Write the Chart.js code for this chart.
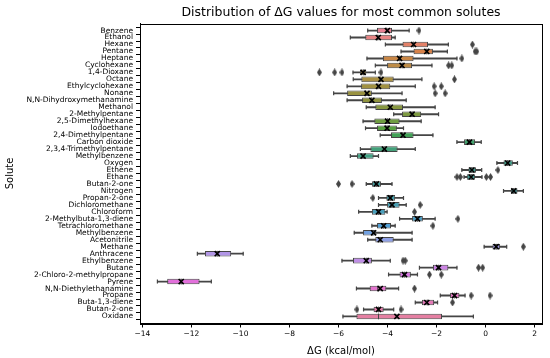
<!DOCTYPE html>
<html>
<head>
<meta charset="utf-8">
<script src="https://cdn.jsdelivr.net/npm/chart.js@4.4.0/dist/chart.umd.min.js"></script>
<style>
  body { margin: 0; background: #fff; }
</style>
</head>
<body>
<canvas id="grafico" width="550" height="358"></canvas>
<script>
// solutos, na ordem de cima para baixo
const solutes = ['Benzene', 'Ethanol', 'Hexane', 'Pentane', 'Heptane', 'Cyclohexane', '1,4-Dioxane', 'Octane',
  'Ethylcyclohexane', 'Nonane', 'N,N-Dihydroxymethanamine', 'Methanol', '2-Methylpentane', '2,5-Dimethylhexane',
  'Iodoethane', '2,4-Dimethylpentane', 'Carbon dioxide', '2,3,4-Trimethylpentane', 'Methylbenzene', 'Oxygen',
  'Ethene', 'Ethane', 'Butan-2-one', 'Nitrogen', 'Propan-2-one', 'Dichloromethane', 'Chloroform',
  '2-Methylbuta-1,3-diene', 'Tetrachloromethane', 'Methylbenzene', 'Acetonitrile', 'Methane', 'Anthracene',
  'Ethylbenzene', 'Butane', '2-Chloro-2-methylpropane', 'Pyrene', 'N,N-Diethylethanamine', 'Propane',
  'Buta-1,3-diene', 'Butan-2-one', 'Oxidane'];

// estatísticas das caixas (kcal/mol)
const whiskerLow = [-4.81, -5.52, -4.09, -3.45, -4.84, -4.5, -5.41, -5.4, -5.65, -6.2, -5.65, -4.87, -3.75, -5.0,
  -4.9, -4.3, -1.17, -5.11, -5.52, 0.46, -0.97, -0.88, -4.87, 0.73, -4.37, -4.37, -5.18, -3.51, -4.64, -5.36,
  -4.81, -0.06, -11.76, -5.86, -2.7, -3.96, -13.39, -5.27, -1.85, -2.87, -4.98, -5.82];
const q1 = [-4.43, -4.91, -3.39, -2.94, -4.19, -4.02, -5.12, -5.07, -5.08, -5.65, -5.04, -4.5, -3.41, -4.54,
  -4.43, -3.86, -0.88, -4.7, -5.25, 0.73, -0.7, -0.77, -4.64, 1.03, -4.05, -4.02, -4.64, -3.0, -4.43, -5.0,
  -4.5, 0.28, -11.45, -5.41, -2.15, -3.51, -12.99, -4.73, -1.45, -2.6, -4.57, -5.27];
const medians = [-4.05, -4.4, -2.95, -2.4, -3.5, -3.4, -4.98, -4.3, -4.4, -4.9, -4.65, -3.9, -3.0, -4.0,
  -4.02, -3.4, -0.66, -4.1, -5.0, 0.9, -0.56, -0.59, -4.46, 1.15, -3.89, -3.82, -4.37, -2.78, -4.16, -4.6,
  -4.3, 0.43, -10.95, -4.85, -1.92, -3.31, -12.42, -4.4, -1.27, -2.38, -4.37, -4.37];
const q3 = [-3.82, -3.82, -2.35, -2.15, -2.94, -3.0, -4.87, -3.75, -3.89, -4.64, -4.23, -3.37, -2.63, -3.51,
  -3.62, -2.94, -0.43, -3.59, -4.57, 1.11, -0.39, -0.43, -4.27, 1.3, -3.69, -3.51, -4.09, -2.56, -3.86, -4.5,
  -3.75, 0.59, -10.38, -4.64, -1.52, -3.05, -11.67, -4.05, -1.07, -2.1, -4.16, -1.78];
const whiskerHigh = [-3.12, -3.69, -1.52, -1.56, -1.17, -2.19, -4.5, -2.6, -2.87, -3.41, -3.24, -2.06, -1.92, -2.63,
  -3.35, -2.15, -0.18, -2.87, -4.37, 1.3, -0.16, -0.15, -3.82, 1.54, -3.35, -3.24, -4.02, -2.06, -3.69, -3.0,
  -3.0, 0.86, -9.89, -3.89, -1.17, -2.78, -11.19, -3.55, -0.84, -1.96, -3.75, -0.5];
const means = [-4.01, -4.38, -2.94, -2.4, -3.51, -3.41, -5.0, -4.27, -4.37, -4.84, -4.64, -3.89, -3.0, -4.0,
  -4.02, -3.37, -0.66, -4.13, -5.0, 0.9, -0.56, -0.59, -4.46, 1.15, -3.89, -3.82, -4.37, -2.78, -4.16, -4.57,
  -4.3, 0.43, -10.95, -4.87, -1.92, -3.31, -12.42, -4.3, -1.27, -2.4, -4.37, -3.62];
// valores atípicos de cada soluto
const outliers = [[-2.72], [], [-0.54], [-0.43, -0.36], [-0.97], [-1.51, -1.38], [-6.78, -6.16, -5.86, -4.27],
  [-1.27], [-2.1, -1.81], [-2.06, -1.65], [], [], [], [], [], [], [], [], [], [], [0.5], [-1.17, -1.03, 0.03, 0.2],
  [-6.0, -5.45], [], [-4.6], [-2.67], [-2.9], [-1.13], [-2.15], [], [], [1.54], [], [-3.37, -3.28],
  [-0.29, -0.12], [-2.29, -1.81], [], [-2.9], [-0.59, 0.18], [-1.35], [-5.25, -3.45], []];

const xTicks = [-14, -12, -10, -8, -6, -4, -2, 0, 2];

// paleta husl do seaborn (dessaturada a 0.75)
const M = [[3.2406, -1.5372, -0.4986], [-0.9689, 1.8758, 0.0415], [0.0557, -0.2040, 1.0570]];
function maxChroma(L, H) {
  const hr = H * Math.PI / 180, sinH = Math.sin(hr), cosH = Math.cos(hr);
  const sub1 = Math.pow(L + 16, 3) / 1560896;
  const sub2 = sub1 > 0.008856 ? sub1 : L / 903.3;
  let res = Infinity;
  M.forEach(([m1, m2, m3]) => {
    const top = (0.99915 * m1 + 1.05122 * m2 + 1.14460 * m3) * sub2;
    const rb = 0.86330 * m3 - 0.17266 * m2;
    const lb = 0.12949 * m3 - 0.38848 * m1;
    const bottom = (rb * sinH + lb * cosH) * sub2;
    [0, 1].forEach(t => {
      const C = L * (top - 1.05122 * t) / (bottom + 0.17266 * sinH * t);
      if (C > 0 && C < res) res = C;
    });
  });
  return res;
}
function huslToRgb(H, S, L) {
  const C = maxChroma(L, H) / 100 * S;
  const hr = H * Math.PI / 180;
  const U = Math.cos(hr) * C, V = Math.sin(hr) * C;
  const t = (L + 16) / 116;
  const Y = t ** 3 > 0.008856 ? t ** 3 : (116 * t - 16) / 903.3;
  const vu = U / (13 * L) + 0.19784, vv = V / (13 * L) + 0.46834;
  const X = -(9 * Y * vu) / ((vu - 4) * vv - vu * vv);
  const Z = (9 * Y - 15 * vv * Y - vv * X) / (3 * vv);
  return M.map(r => {
    let c = r[0] * X + r[1] * Y + r[2] * Z;
    c = c <= 0.0031308 ? 12.92 * c : 1.055 * Math.pow(c, 1 / 2.4) - 0.055;
    return Math.min(1, Math.max(0, c));
  });
}
function desaturated([r, g, b], prop) {
  const max = Math.max(r, g, b), min = Math.min(r, g, b);
  const l = (max + min) / 2;
  let h = 0, s = 0;
  if (max !== min) {
    const d = max - min;
    s = l > 0.5 ? d / (2 - max - min) : d / (max + min);
    if (max === r) h = (g - b) / d + (g < b ? 6 : 0);
    else if (max === g) h = (b - r) / d + 2;
    else h = (r - g) / d + 4;
    h *= 60;
  }
  return `hsl(${h.toFixed(1)}, ${(s * prop * 100).toFixed(1)}%, ${(l * 100).toFixed(1)}%)`;
}
const cores = solutes.map((_, i) => desaturated(huslToRgb(((i / solutes.length + 0.01) % 1) * 359, 89.1, 64.35), 0.75));

const cinza = '#454545';

// losango fino para os valores atípicos
const losango = document.createElement('canvas');
losango.width = 5; losango.height = 8;
const lctx = losango.getContext('2d');
lctx.fillStyle = cinza;
lctx.beginPath();
lctx.moveTo(2.5, 0); lctx.lineTo(5, 4); lctx.lineTo(2.5, 8); lctx.lineTo(0, 4);
lctx.closePath();
lctx.fill();

const pontosAtipicos = [];
outliers.forEach((lista, i) => lista.forEach(v => pontosAtipicos.push({ x: v, y: i })));

// moldura completa em volta da área do gráfico
const moldura = {
  id: 'moldura',
  afterDraw(chart) {
    const a = chart.chartArea, ctx = chart.ctx;
    ctx.save();
    ctx.strokeStyle = '#000';
    ctx.lineWidth = 1;
    ctx.strokeRect(Math.round(a.left) + 0.5, Math.round(a.top) + 0.5,
      Math.round(a.right - a.left), Math.round(a.bottom - a.top));
    ctx.restore();
  }
};

Chart.defaults.font.family = 'DejaVu Sans';
Chart.defaults.color = '#000';

const ctx = document.getElementById('grafico').getContext('2d');
new Chart(ctx, {
  type: 'bar',
  data: {
    datasets: [
      {
        type: 'scatter', label: 'atípicos', order: 0,
        data: pontosAtipicos,
        pointStyle: losango, radius: 4
      },
      {
        type: 'scatter', label: 'média', order: 0,
        data: means.map((v, i) => ({ x: v, y: i })),
        pointStyle: 'crossRot', radius: 3.6, borderWidth: 1.6,
        borderColor: '#000', backgroundColor: '#000'
      },
      {
        type: 'scatter', label: 'mediana', order: 1,
        data: medians.map((v, i) => ({ x: v, y: i })),
        pointStyle: 'line', rotation: 90, radius: 2.85, borderWidth: 1,
        borderColor: cinza
      },
      {
        label: 'caixa', order: 2, grouped: false,
        data: solutes.map((_, i) => ({ y: i, x: [q1[i], q3[i]] })),
        backgroundColor: cores, borderColor: cinza, borderWidth: 1, borderSkipped: false,
        barPercentage: 0.8, categoryPercentage: 1
      },
      {
        type: 'scatter', label: 'limites', order: 3,
        data: whiskerLow.map((v, i) => ({ x: v, y: i })).concat(whiskerHigh.map((v, i) => ({ x: v, y: i }))),
        pointStyle: 'line', rotation: 90, radius: 2, borderWidth: 1.2,
        borderColor: cinza
      },
      {
        label: 'bigodes', order: 4, grouped: false,
        data: solutes.map((_, i) => ({ y: i, x: [whiskerLow[i], whiskerHigh[i]] })),
        backgroundColor: cinza, borderWidth: 0, barThickness: 1.2
      }
    ]
  },
  options: {
    indexAxis: 'y',
    responsive: false,
    animation: false,
    layout: { padding: { left: 0, right: 8, top: 0, bottom: 0 } },
    plugins: {
      legend: { display: false },
      tooltip: { enabled: false },
      title: {
        display: true,
        fullSize: false,
        text: 'Distribution of ΔG values for most common solutes',
        font: { size: 12.5, weight: 'normal' },
        padding: { top: 5, bottom: 3.5 }
      }
    },
    scales: {
      x: {
        type: 'linear',
        min: -14.1, max: 2.3,
        afterBuildTicks: s => { s.ticks = xTicks.map(v => ({ value: v })); },
        afterFit: s => { s.height = 34.5; },
        ticks: {
          font: { size: 7.5 }, padding: 2, maxRotation: 0,
          callback: v => (v < 0 ? '\u2212' + Math.abs(v) : String(v))
        },
        grid: { drawOnChartArea: false, tickLength: 4, tickColor: '#000' },
        border: { color: '#000' },
        title: { display: true, text: 'ΔG (kcal/mol)', font: { size: 10 }, padding: { top: 2, bottom: 1 } }
      },
      y: {
        type: 'linear',
        reverse: true,
        min: -0.5, max: solutes.length - 0.5,
        afterBuildTicks: s => { s.ticks = solutes.map((_, i) => ({ value: i })); },
        afterFit: s => { s.width = 140; },
        ticks: {
          font: { size: 7.5 }, padding: 3, autoSkip: false,
          callback: v => solutes[v]
        },
        grid: { drawOnChartArea: false, tickLength: 4, tickColor: '#000' },
        border: { color: '#000' },
        title: { display: true, text: 'Solute', font: { size: 10 }, padding: { top: 4, bottom: 0 } }
      }
    }
  },
  plugins: [moldura]
});
</script>
</body>
</html>
